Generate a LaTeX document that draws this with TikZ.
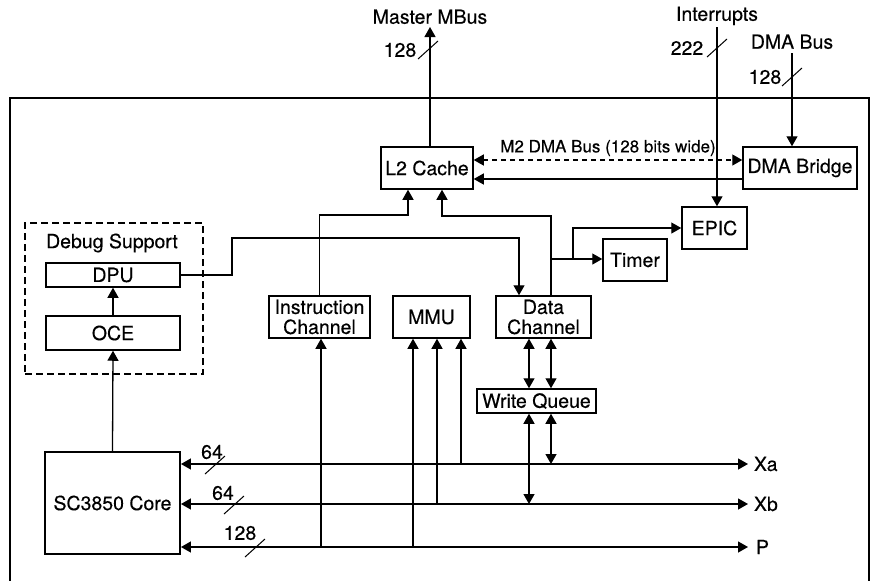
\documentclass[tikz,border=0pt]{standalone}
\usepackage{fontspec}
\setmainfont{TeX Gyre Heros}[FakeBold=0.3]
\usetikzlibrary{arrows.meta}

\begin{document}
\begin{tikzpicture}[
x=1pt, y=-1pt,
font=\fontsize{19.5}{21}\selectfont,
line width=1.3pt,
block/.style={draw, line width=1.5pt, inner sep=0pt, align=center},
arr/.style={-{Triangle[length=10pt,width=11pt]}},
biarr/.style={{Triangle[length=10pt,width=11pt]}-{Triangle[length=10pt,width=11pt]}},
debugbox/.style={draw, line width=1.9pt, dash pattern=on 7pt off 4pt, inner sep=0pt}
]
    \useasboundingbox (0,0) rectangle (873,581);

    % Outer frame
    \draw[line width=1.5pt] (10,581) |- (869,98) -- (869,581);

    % Blocks
    \node[block, minimum width=92pt, minimum height=42pt] (l2) at (427,168) {L2 Cache};
    \node[block, minimum width=114pt, minimum height=42pt] (dma) at (800,168) {DMA Bridge};
    \node[block, minimum width=65pt, minimum height=42pt] (epic) at (714.5,228) {EPIC};
    \node[block, minimum width=64pt, minimum height=42pt] (timer) at (635,260) {Timer};
    \node[block, minimum width=101pt, minimum height=42pt] (instr) at (319.5,317) {Instruction\\[-1pt]Channel};
    \node[block, minimum width=77pt, minimum height=42pt] (mmu) at (431.5,317) {MMU};
    \node[block, minimum width=95pt, minimum height=42pt] (data) at (543.5,317) {Data\\[-1pt]Channel};
    \node[block, minimum width=119pt, minimum height=24pt] (wq) at (536.5,401) {Write Queue};
    \node[debugbox, minimum width=178pt, minimum height=151pt] (debug) at (114,298.5) {};
    \node (debuglbl) at (112,243) {Debug Support};
    \node[block, minimum width=134pt, minimum height=24pt] (dpu) at (113,275) {DPU};
    \node[block, minimum width=134pt, minimum height=34pt] (oce) at (113,333) {OCE};
    \node[block, line width=1.9pt, minimum width=135pt, minimum height=102pt] (core) at (112.5,503) {SC3850 Core};

    % Free ends
    \draw
    (430,27) coordinate (mbus)
    (717,27) coordinate (irq)
    (792,53) coordinate (dmabus)
    (408,215) coordinate (ic)
    (442,216) coordinate (dc)
    (551,216) coordinate (dt)
    (551,259) coordinate (tb)
    (573,259) coordinate (eb)
    (232,238) coordinate (dp)
    (519,238) coordinate (dq)
    (748,464) coordinate (xa)
    (748,504) coordinate (xb)
    (748,547) coordinate (pp)
    (321,547) coordinate (ptap1)
    (413,547) coordinate (ptap2)
    (437,504) coordinate (xbtap)
    (461,464) coordinate (xatap)
    (529,504) coordinate (wqxb)
    (551,464) coordinate (wqxa);

    % External buses
    \draw[arr] (l2.north -| mbus) -- (mbus) node[above=-1pt] (mbuslbl) {Master MBus};
    \draw[arr] (irq) node[above=-2pt] (irqlbl) {Interrupts} -- (irq |- epic.north);
    \draw[arr] (dmabus) node[above=0pt] (dmabuslbl) {DMA Bus} -- (dmabus |- dma.north);

    % M2 DMA bus
    \draw[biarr, dash pattern=on 5pt off 4pt] (l2.east |- 0,160) -- (dma.west |- 0,160)
        node[midway, above=0pt, font=\fontsize{17}{18}\selectfont] (m2lbl) {M2 DMA Bus (128 bits wide)};
    \draw[arr] (dma.west |- 0,179) -- (l2.east |- 0,179);

    % Channels to L2
    \draw[arr] (instr.north) |- (ic) -- (ic |- l2.south);
    \draw[arr] (data.north -| dt) |- (dc) -- (dc |- l2.south);
    \draw[arr] (tb) -- (timer.west |- tb);
    \draw[arr] (eb) |- (epic.west);
    \draw[arr] (dpu.east) -| (dp) -- (dq) -- (dq |- data.north);

    % Debug chain
    \draw[arr] (oce.north) -- (dpu.south);
    \draw[arr] (core.north) -- (oce.south);

    % Core buses
    \draw[biarr] (core.east |- xa) -- (xa) node[right=2pt] (xalbl) {Xa};
    \draw[biarr] (core.east |- xb) -- (xb) node[right=2pt] (xblbl) {Xb};
    \draw[biarr] (core.east |- pp) -- (pp) node[right=4pt] (plbl) {P};

    \draw[arr] (ptap1) -- (ptap1 |- instr.south);
    \draw[arr] (ptap2) -- (ptap2 |- mmu.south);
    \draw[arr] (xbtap) -- (xbtap |- mmu.south);
    \draw[arr] (xatap) -- (xatap |- mmu.south);

    \draw[biarr] (data.south -| wqxb) -- (wq.north -| wqxb);
    \draw[biarr] (data.south -| wqxa) -- (wq.north -| wqxa);
    \draw[biarr] (wq.south -| wqxb) -- (wqxb);
    \draw[biarr] (wq.south -| wqxa) -- (wqxa);

    % Width marks
    \foreach \sx/\sy in {428/50, 717/48, 792/77, 215/465, 234/505, 255/548}
        \draw[line width=1pt] (\sx-10,\sy+9) -- (\sx+10,\sy-9);
    \node (w1) at (400,50) {128};
    \node (w2) at (687,48) {222};
    \node (w3) at (765,77) {128};
    \node (w4) at (212,452) {64};
    \node (w5) at (223,493) {64};
    \node (w6) at (240,533) {128};
\end{tikzpicture}
\end{document}
